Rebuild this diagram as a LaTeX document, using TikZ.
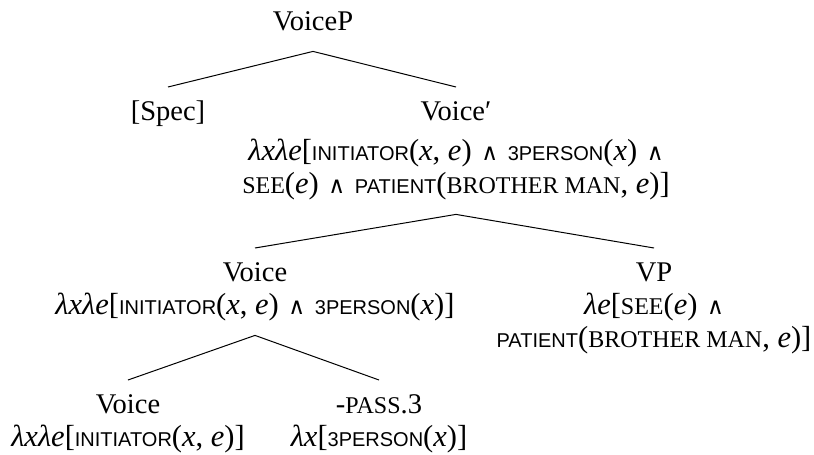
\documentclass[tikz,border=0pt]{standalone}
\usepackage{fontspec}
\setmainfont{Liberation Serif}
\setsansfont{Liberation Sans}
\newfontfamily\opfont{DejaVu Serif}
\newcommand{\fml}[1]{{\fontsize{30.5}{33}\selectfont #1}}
\newcommand{\smc}[1]{{\fontsize{24}{33}\selectfont #1}}
\newcommand{\sfc}[1]{{\sffamily\fontsize{20}{33}\selectfont #1}}
\newcommand{\conj}{\hspace{2pt}{\opfont\fontsize{23}{33}\selectfont ∧}\hspace{2pt}}
\begin{document}
\begin{tikzpicture}[x=1pt,y=-1pt]
  \useasboundingbox (0,0) rectangle (814,455);
  \begin{scope}[every node/.style={anchor=north,align=center,inner sep=10.5pt,font=\fontsize{28.5}{33}\selectfont}]
  \node (voicep) at (313,-3) {\strut VoiceP};
  \node (spec) at (168,87) {\strut [Spec]};
  \node (vbar) at (456,87) {\strut Voice′\\[7pt]
    \fml{\textit{λxλe}[\sfc{INITIATOR}(\textit{x}, \textit{e}) \conj{} \sfc{3PERSON}(\textit{x}) \conj}\\
    \fml{\smc{SEE}(\textit{e}) \conj{} \sfc{PATIENT}(\smc{BROTHER MAN}, \textit{e})]}\strut};
  \node (voice) at (255,248) {\strut Voice\\
    \fml{\textit{λxλe}[\sfc{INITIATOR}(\textit{x}, \textit{e}) \conj{} \sfc{3PERSON}(\textit{x})]}\strut};
  \node (vp) at (654,248) {\strut VP\\
    \fml{\textit{λe}[\smc{SEE}(\textit{e}) \conj}\\
    \fml{\sfc{PATIENT}(\smc{BROTHER MAN}, \textit{e})]}\strut};
  \node (vhead) at (128,380) {\strut Voice\\
    \fml{\textit{λxλe}[\sfc{INITIATOR}(\textit{x}, \textit{e})]}\strut};
  \node (pass) at (379,380) {\strut -\smc{PASS}.3\\
    \fml{\textit{λx}[\sfc{3PERSON}(\textit{x})]}\strut};
  \end{scope}
  \begin{scope}[every edge/.style={draw=black,line width=1pt}]
  \path (voicep.south) edge (spec.north);
  \path (voicep.south) edge (vbar.north);
  \path (vbar.south) edge (voice.north);
  \path (vbar.south) edge (vp.north);
  \path (voice.south) edge (vhead.north);
  \path (voice.south) edge (pass.north);
  \end{scope}
\end{tikzpicture}
\end{document}
